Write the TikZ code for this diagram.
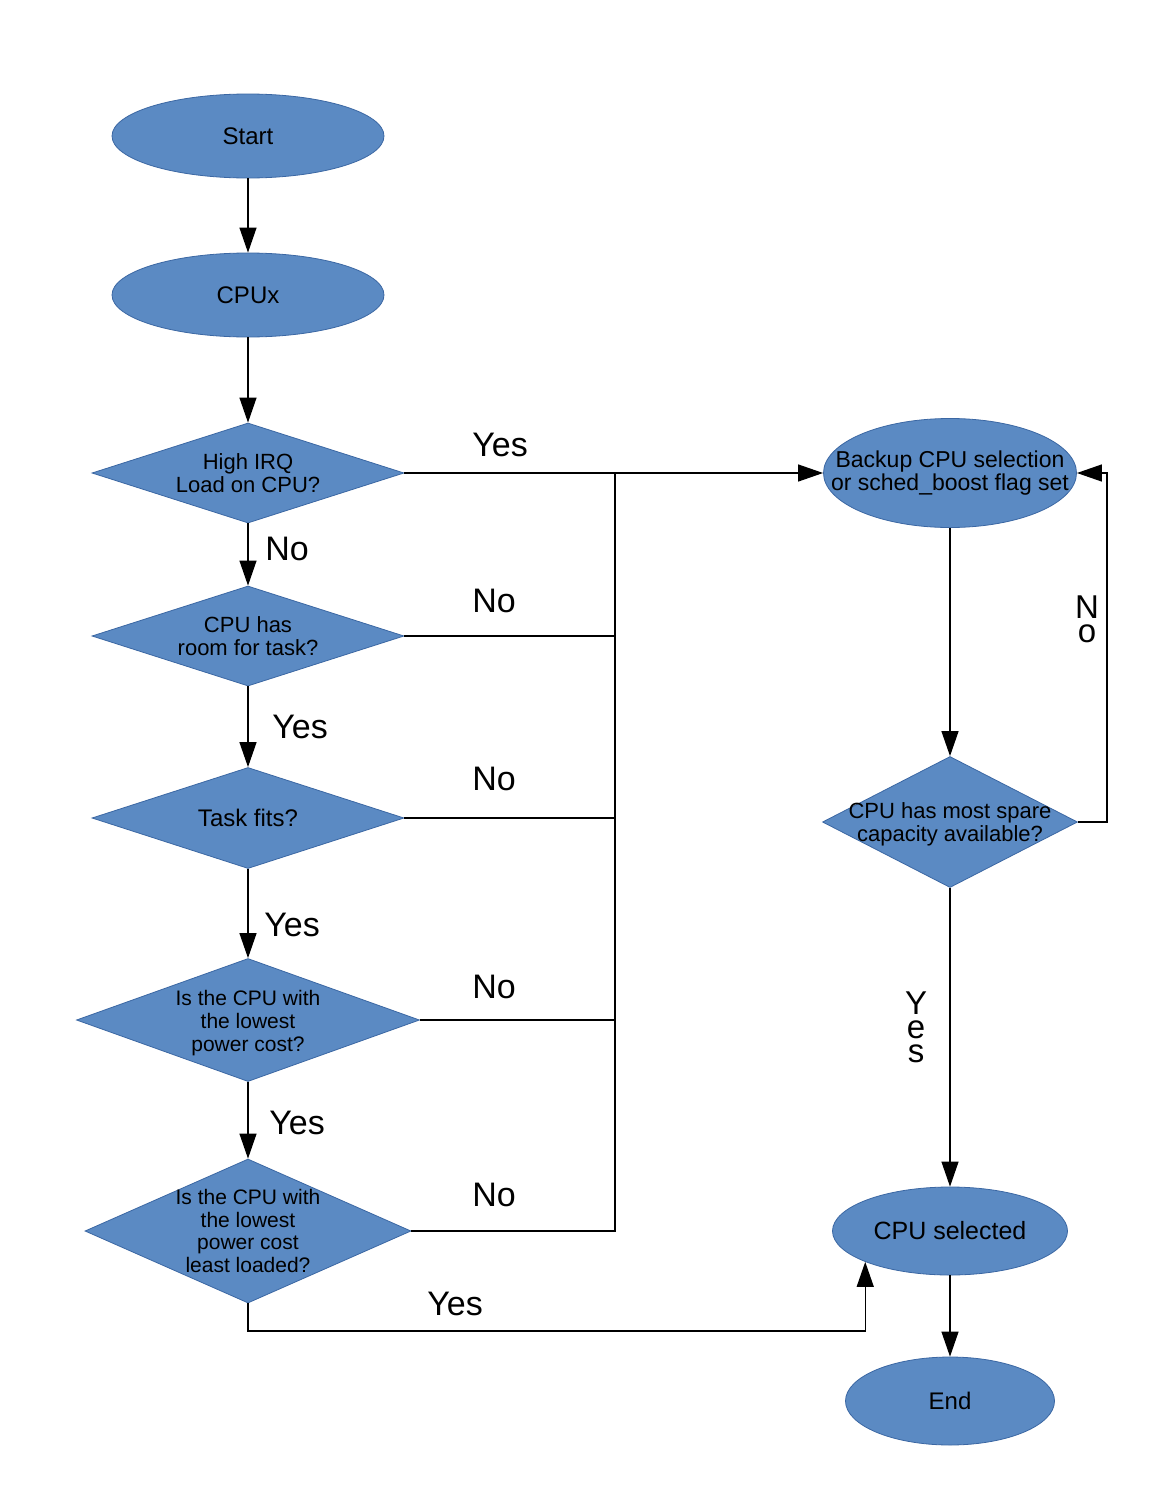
\documentclass[tikz,border=0pt]{standalone}
\usepackage{fontspec}
\setmainfont{Liberation Sans}
\usetikzlibrary{shapes.geometric,arrows.meta}
\definecolor{shapefill}{HTML}{5B8AC3}
\definecolor{shapeedge}{HTML}{3B67A3}
\begin{document}
\begin{tikzpicture}[x=1pt,y=-1pt,
  base/.style={draw=shapeedge, fill=shapefill, line width=0.8pt, inner sep=0pt},
  terminal/.style={base, ellipse},
  decision/.style={base, diamond},
  txt/.style={font=\fontsize{#1}{23}\selectfont, align=center, text=black},
  txtsm/.style={font=\fontsize{21}{22.6}\selectfont, align=center, text=black},
  lbl/.style={font=\fontsize{34}{34}\selectfont, inner sep=0pt},
  vlbl/.style={font=\fontsize{33}{24}\selectfont, align=center, inner sep=0pt},
  flow/.style={line width=1.2pt},
  arrow/.style={flow, -{Triangle[length=25pt,width=17pt]}}
]
% canvas
\fill[white] (0,0) rectangle (1156,1496);
\useasboundingbox (0,0) rectangle (1156,1496);

% left column
\node[terminal, minimum width=272pt, minimum height=84pt,
      label={[txt=24]center:Start}] (start) at (248,136) {};
\node[terminal, minimum width=272pt, minimum height=84pt,
      label={[txt=24]center:CPUx}] (cpux) at (248,295) {};
\node[decision, minimum width=312pt, minimum height=100pt,
      label={[txt=22]center:High IRQ\\Load on CPU?}] (d1) at (248,473) {};
\node[decision, minimum width=312pt, minimum height=100pt,
      label={[txt=22]center:CPU has\\room for task?}] (d2) at (248,636) {};
\node[decision, minimum width=312pt, minimum height=101pt,
      label={[txt=24]center:Task fits?}] (d3) at (248,818) {};
\node[decision, minimum width=343pt, minimum height=123pt,
      label={[txtsm, yshift=-3pt]center:Is the CPU with\\the lowest\\power cost?}] (d4) at (248,1020) {};
\node[decision, minimum width=326pt, minimum height=144pt,
      label={[txtsm]center:Is the CPU with\\the lowest\\power cost\\least loaded?}] (d5) at (248,1231) {};

% right column
\node[terminal, minimum width=253pt, minimum height=109pt,
      label={[txt=23]center:Backup CPU selection\\or sched\_boost flag set}] (backup) at (950,473) {};
\node[decision, minimum width=255pt, minimum height=131pt,
      label={[txt=22, yshift=-2pt]center:CPU has most spare\\capacity available?}] (dr) at (950,822) {};
\node[terminal, minimum width=235pt, minimum height=88pt,
      label={[txt=25]center:CPU selected}] (csel) at (950,1231) {};
\node[terminal, minimum width=209pt, minimum height=88pt,
      label={[txt=24]center:End}] (end) at (950,1401) {};

% main chain
\draw[arrow] (start) -- (cpux);
\draw[arrow] (cpux) -- (d1);
\draw[arrow] (d1) -- (d2);
\draw[arrow] (d2) -- (d3);
\draw[arrow] (d3) -- (d4);
\draw[arrow] (d4) -- (d5);

% collecting bus towards the backup selection
\coordinate (bus) at (615,473);
\draw[arrow] (d1.east) -- (backup.west);
\draw[flow] (d2.east) -- (d2.east -| bus);
\draw[flow] (d3.east) -- (d3.east -| bus);
\draw[flow] (d4.east) -- (d4.east -| bus);
\draw[flow] (d5.east) -| (bus);

% least loaded branch
\draw[arrow] (d5.south) |- (csel.200.5 |- 0,1331) -- (csel.200.5);

% right column flow
\draw[arrow] (backup) -- (dr);
\draw[arrow] (dr.east) -- ++(29,0) |- (backup.east);
\draw[arrow] (dr) -- (csel);
\draw[arrow] (csel) -- (end);

% branch labels
\node[lbl] (l1) at (500,445) {Yes};
\node[lbl] (l2) at (287,549) {No};
\node[lbl] (l3) at (494,601) {No};
\node[lbl] (l4) at (300,727) {Yes};
\node[lbl] (l5) at (494,779) {No};
\node[lbl] (l6) at (292,925) {Yes};
\node[lbl] (l7) at (494,987) {No};
\node[lbl] (l8) at (297,1123) {Yes};
\node[lbl] (l9) at (494,1195) {No};
\node[lbl] (l10) at (455,1304) {Yes};
\node[vlbl] (l11) at (1087,619) {N\\o};
\node[vlbl] (l12) at (916,1027) {Y\\e\\s};
\end{tikzpicture}
\end{document}
